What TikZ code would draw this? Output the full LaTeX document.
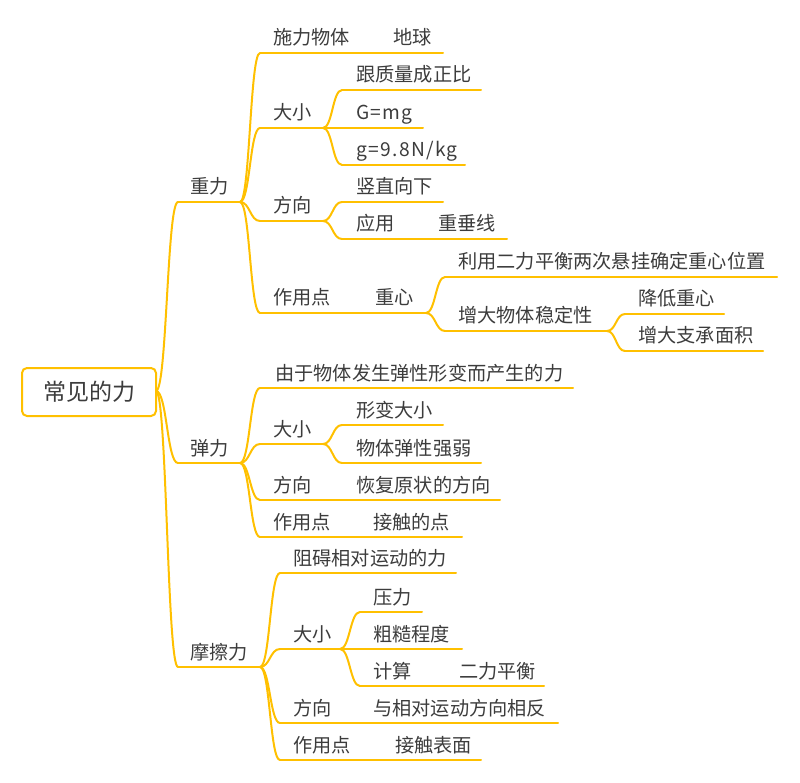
\documentclass[tikz,border=0pt]{standalone}
\usepackage{fontspec}
\setmainfont{Noto Sans CJK SC}
\usetikzlibrary{calc}
\definecolor{br}{RGB}{255,192,0}
\definecolor{tx}{RGB}{60,60,60}
\newcommand\mmtopic[6]{%
  \coordinate (#1s) at (#2,#4);
  \coordinate (#1e) at (#3,#4);
  \node[lbl] (#1) at (#5,#4-8) {#6};
  \draw[branch] (#1s) -- (#1e);
}
\newcommand\mmconn[2]{%
  \draw[branch] let \p1=(#1), \p2=(#2) in
    (\p1) .. controls ({0.5*\x1+0.5*\x2},\y1) and ({0.5*\x1+0.5*\x2},\y2) .. (\p2);
}
\newcommand\latin[1]{{\addfontfeature{LetterSpace=7}#1}}
\begin{document}
\begin{tikzpicture}[x=1pt,y=-1pt,
  branch/.style={draw=br, line width=2pt, line cap=round},
  lbl/.style={anchor=base west, inner sep=0pt, text=tx, font=\fontsize{19.2}{22}\selectfont}]
\useasboundingbox (0,0) rectangle (800,783);

% level 1
\coordinate (R) at (156,391);
\mmtopic{zl}{178}{240}{202}{190}{重力}
\mmtopic{tl}{178}{240}{463}{190}{弹力}
\mmtopic{ml}{178}{260}{667}{190}{摩擦力}
\mmconn{R}{zls}
\mmconn{R}{tls}
\mmconn{R}{mls}

% 重力
\mmtopic{z1}{260}{362}{53}{273}{施力物体}
\mmtopic{z1a}{381}{443}{53}{393}{地球}
\mmtopic{z2}{260}{323}{128}{273}{大小}
\mmtopic{z21}{342}{481}{90}{356}{跟质量成正比}
\mmtopic{z22}{342}{423}{128}{356}{\latin{G=mg}}
\mmtopic{z23}{342}{465}{165}{356}{\latin{g=9.8N/kg}}
\mmtopic{z3}{260}{323}{221}{273}{方向}
\mmtopic{z31}{342}{443}{202}{356}{竖直向下}
\mmtopic{z32}{342}{404}{239}{356}{应用}
\mmtopic{z32a}{426}{507}{239}{438}{重垂线}
\mmtopic{z4}{260}{342}{313}{273}{作用点}
\mmtopic{z4a}{362}{426}{313}{375}{重心}
\mmtopic{z41}{445}{777}{277}{458}{利用二力平衡两次悬挂确定重心位置}
\mmtopic{z42}{445}{607}{331}{458}{增大物体稳定性}
\mmtopic{z421}{625}{724}{314}{638}{降低重心}
\mmtopic{z422}{625}{763}{351}{638}{增大支承面积}
\mmconn{zle}{z1s}
\mmconn{z1e}{z1as}
\mmconn{zle}{z2s}
\mmconn{z2e}{z21s}
\mmconn{z2e}{z22s}
\mmconn{z2e}{z23s}
\mmconn{zle}{z3s}
\mmconn{z3e}{z31s}
\mmconn{z3e}{z32s}
\mmconn{z32e}{z32as}
\mmconn{zle}{z4s}
\mmconn{z4e}{z4as}
\mmconn{z4ae}{z41s}
\mmconn{z4ae}{z42s}
\mmconn{z42e}{z421s}
\mmconn{z42e}{z422s}

% 弹力
\mmtopic{t1}{260}{573}{388}{275}{由于物体发生弹性形变而产生的力}
\mmtopic{t2}{260}{323}{444}{273}{大小}
\mmtopic{t21}{342}{443}{425}{356}{形变大小}
\mmtopic{t22}{342}{481}{463}{356}{物体弹性强弱}
\mmtopic{t3}{260}{323}{500}{273}{方向}
\mmtopic{t3a}{342}{500}{500}{356}{恢复原状的方向}
\mmtopic{t4}{260}{342}{537}{273}{作用点}
\mmtopic{t4a}{360}{462}{537}{373}{接触的点}
\mmconn{tle}{t1s}
\mmconn{tle}{t2s}
\mmconn{t2e}{t21s}
\mmconn{t2e}{t22s}
\mmconn{tle}{t3s}
\mmconn{t3e}{t3as}
\mmconn{tle}{t4s}
\mmconn{t4e}{t4as}

% 摩擦力
\mmtopic{m1}{280}{456}{573}{293}{阻碍相对运动的力}
\mmtopic{m2}{280}{340}{649}{293}{大小}
\mmtopic{m21}{360}{422}{612}{373}{压力}
\mmtopic{m22}{360}{462}{649}{373}{粗糙程度}
\mmtopic{m23}{360}{424}{686}{373}{计算}
\mmtopic{m23a}{447}{544}{686}{459}{二力平衡}
\mmtopic{m3}{280}{342}{723}{293}{方向}
\mmtopic{m3a}{361}{558}{723}{373}{与相对运动方向相反}
\mmtopic{m4}{280}{361}{760}{293}{作用点}
\mmtopic{m4a}{383}{481}{760}{395}{接触表面}
\mmconn{mle}{m1s}
\mmconn{mle}{m2s}
\mmconn{m2e}{m21s}
\mmconn{m2e}{m22s}
\mmconn{m2e}{m23s}
\mmconn{m23e}{m23as}
\mmconn{mle}{m3s}
\mmconn{m3e}{m3as}
\mmconn{mle}{m4s}
\mmconn{m4e}{m4as}

% root
\node[draw=br, line width=2pt, rounded corners=5pt, fill=white,
  minimum width=134pt, minimum height=48pt, inner sep=0pt,
  text=tx, font=\fontsize{23}{26}\selectfont] (root) at (89,392) {常见的力};
\end{tikzpicture}
\end{document}
